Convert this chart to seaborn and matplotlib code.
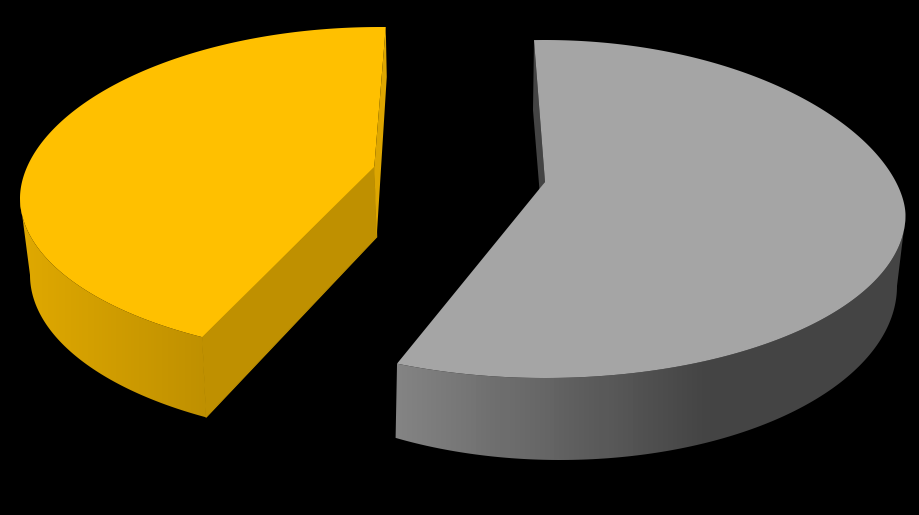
import numpy as np
import matplotlib
matplotlib.use("Agg")
import matplotlib.pyplot as plt
import seaborn as sns

# slice shares
labels = ["grey", "yellow"]
shares = [57.65, 42.35]
top_colors = ["#a5a5a5", "#ffc000"]
inner_colors = ["#444444", "#bf9000"]

sns.set_theme(style="white", rc={"figure.facecolor": "black", "axes.facecolor": "black"})

# the perspective eats a little of the full circle
sweep = 357.3
spans = [s / sum(shares) * sweep for s in shares]
starts = [-1.75, 209.6]


def rim(theta, cx, cy, a, b_up, b_down, q=1.0):
    # theta runs clockwise from 12 o'clock, q flattens the far side of the rim
    t = np.radians(theta)
    c = np.cos(t)
    far = b_up * np.abs(c) ** q
    near = b_down * np.abs(c)
    return cx + a * np.sin(t), cy - np.where(c > 0, far, -near)


def gradient_wall(ax, x, y, colors, x0, x1):
    # vertical bands of colour clipped to the side wall
    pal = np.array(sns.blend_palette(colors, 64))
    f = np.clip((np.arange(919) + 0.5 - x0) / (x1 - x0), 0, 1)
    img = pal[(f * 63).astype(int)][None, :, :]
    im = ax.imshow(img, extent=(0, 919, 515, 0), aspect="auto", interpolation="nearest", zorder=1)
    poly = plt.Polygon(np.c_[x, y], closed=True, transform=ax.transData, fc="none", ec="none")
    ax.add_patch(poly)
    im.set_clip_path(poly)


fig, ax = plt.subplots(figsize=(9.19, 5.15), dpi=100)
fig.subplots_adjust(0, 0, 1, 1)

# ---- grey slice ----
start, span = starts[0], spans[0]
theta = np.linspace(start, start + span, 300)
tx, ty = rim(theta, 545, 215, 360.5, 175, 163, q=1.13)
apex = (545, 182)
apex_low = (539.5, 190)

front = theta[theta >= 90]
fx, fy = rim(front, 545, 215, 360.5, 175, 163, q=1.13)
low = np.linspace(90, 209.2, 200)
lx, ly = rim(low, 560, 286, 337, 174, 174)
gradient_wall(ax, np.r_[fx, lx[::-1]], np.r_[fy, ly[::-1]], ["#838383", "#444444"], 397, 707)

ax.fill([tx[0], tx[0] - 1, apex_low[0], apex[0]], [ty[0], 110, apex_low[1], apex[1]],
        color=inner_colors[0], lw=0, zorder=2)
ax.fill(np.r_[apex[0], tx], np.r_[apex[1], ty], color=top_colors[0], lw=0, zorder=3)

# ---- yellow slice ----
start, span = starts[1], spans[1]
theta = np.linspace(start, start + span, 300)
tx, ty = rim(theta, 380, 198, 360, 171, 160, q=1.05)
apex = (374.3, 166.7)
apex_low = (376.7, 237)

front = theta[theta <= 270]
fx, fy = rim(front, 380, 198, 360, 171, 160, q=1.05)
low = np.linspace(209.8, 270, 200)
lx, ly = rim(low, 380, 275, 350, 164, 164)
gradient_wall(ax, np.r_[fx, lx[::-1]], np.r_[fy, ly[::-1]], ["#dfa800", "#bf9000"], 25, 205)

# cut faces, the edge line closes the seam against the wall
ax.fill([fx[0], lx[0], apex_low[0], apex[0]], [fy[0], ly[0], apex_low[1], apex[1]],
        fc=inner_colors[1], ec=inner_colors[1], lw=0.8, zorder=2)
ax.fill([tx[-1], tx[-1] + 1, apex_low[0], apex[0]], [ty[-1], 77, apex_low[1], apex[1]],
        color="#dda600", lw=0, zorder=2)
ax.fill(np.r_[apex[0], tx], np.r_[apex[1], ty], color=top_colors[1], lw=0, zorder=3)

ax.set_xlim(0, 919)
ax.set_ylim(515, 0)
ax.axis("off")

fig.savefig("out.png", dpi=100, facecolor="black")
